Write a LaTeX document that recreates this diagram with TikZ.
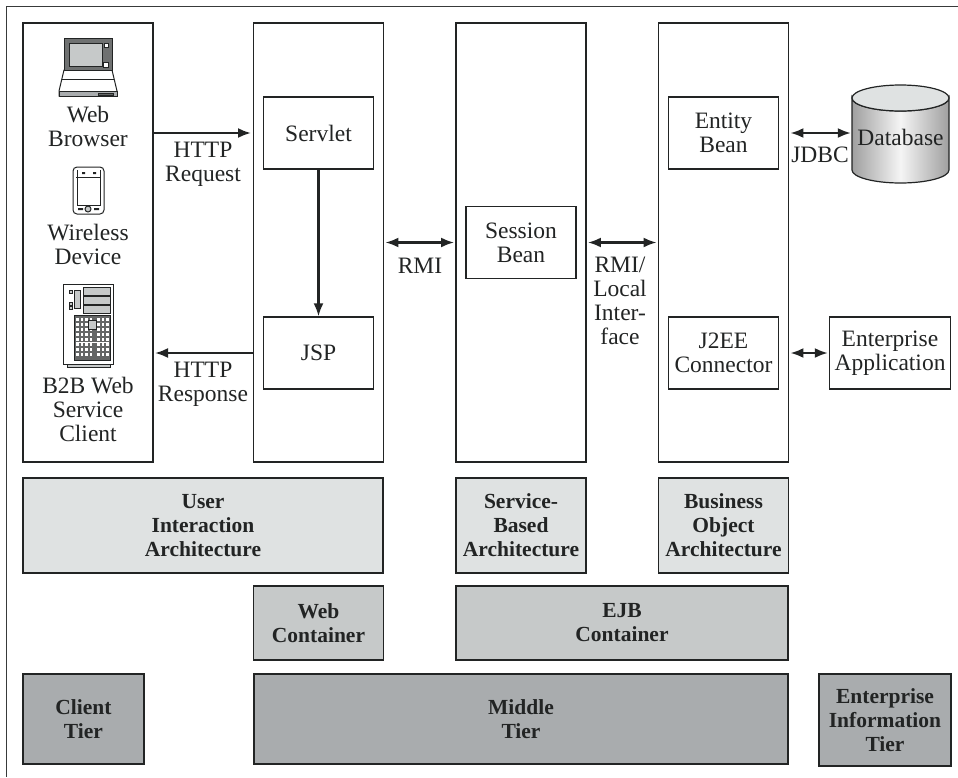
\documentclass[tikz,border=0pt]{standalone}
\usepackage{fontspec}
\setmainfont{Liberation Serif}
\usetikzlibrary{positioning, arrows.meta}

\definecolor{inkgray}{HTML}{222424}
\definecolor{lightbar}{HTML}{DFE2E2}
\definecolor{midbar}{HTML}{C6C9C9}
\definecolor{darkbar}{HTML}{A9ACAE}

\tikzstyle{block} = [rectangle, draw=inkgray, line width=1.9pt, fill=white, text=inkgray, align=center, inner sep=0pt, font=\fontsize{23.5}{24}\selectfont]
\tikzstyle{column} = [block, minimum width=130pt, minimum height=439pt]
\tikzstyle{comp} = [block, line width=1.4pt, minimum width=110pt, minimum height=72pt]
\tikzstyle{bar} = [block, font=\fontsize{21.5}{24}\selectfont\bfseries]
\tikzstyle{lbl} = [align=center, inner sep=0pt, text=inkgray, font=\fontsize{23.5}{24}\selectfont]
\tikzstyle{arrow} = [draw=inkgray, line width=2.2pt, -{Latex[length=13pt, width=10pt]}]
\tikzstyle{biarrow} = [draw=inkgray, line width=2.2pt, {Latex[length=13pt, width=10pt]}-{Latex[length=13pt, width=10pt]}, shorten <=1pt, shorten >=1pt]
\tikzstyle{icon} = [draw=inkgray, line width=1pt]

\begin{document}
\begin{tikzpicture}[x=1pt, y=-1pt, node distance=100pt, auto]
    \useasboundingbox (0,0) rectangle (958,777);
    \draw[draw=inkgray!90, line width=1.4pt] (958,6.5) -- (6.5,6.5) -- (6.5,777);

    % columns
    \node[column] (clientcol) at (88,242.5) {};
    \node[column] (webcol) at (318.5,242.5) {};
    \node[column, right of=webcol, node distance=202.5pt] (ejbcol) {};
    \node[column, right of=ejbcol, node distance=202.5pt] (entitycol) {};

    % components
    \node[comp, above of=webcol, node distance=109.5pt] (servlet) {Servlet};
    \node[comp, below of=webcol, node distance=110.5pt] (jsp) {JSP};
    \node[comp] (session) at (ejbcol) {Session\\Bean};
    \node[comp, above of=entitycol, node distance=109.5pt] (entity) {Entity\\Bean};
    \node[comp, below of=entitycol, node distance=110.5pt] (connector) {J2EE\\Connector};
    \node[comp, minimum width=121pt, right of=connector, node distance=166.5pt] (application) {Enterprise\\Application};

    % database
    \shade[left color=gray!75, right color=gray!75, middle color=white!92!gray, draw=inkgray, line width=1.2pt]
        (852,98) -- (852,170) arc[start angle=180, end angle=360, x radius=48.5pt, y radius=13pt]
        -- (949,98) arc[start angle=0, end angle=-180, x radius=48.5pt, y radius=13pt] -- cycle;
    \draw[fill=lightbar, draw=inkgray, line width=1.2pt] (900.5,98) ellipse[x radius=48.5pt, y radius=13pt];
    \node[lbl, minimum width=97pt, minimum height=96pt] (database) at (900.5,133) {\raisebox{-12pt}[0pt][0pt]{Database}};

    % client texts
    \node[lbl] (browser) at (88,126) {Web\\Browser};
    \node[lbl] (wireless) at (88,244) {Wireless\\Device};
    \node[lbl] (b2b) at (88,409) {B2B Web\\Service\\Client};

    % laptop
    \draw[icon, fill=white] (64,70) -- (59,91) -- (59,96) -- (117,96) -- (117,91) -- (112,70) -- cycle;
    \draw[icon, fill=darkbar] (59,91) rectangle (117,96);
    \draw[icon, fill=inkgray!70] (98,93) rectangle (113,95);
    \draw[icon] (62,79) -- (114,79);
    \draw[icon, fill=inkgray!65] (64,38) rectangle (112,70);
    \draw[icon, fill=midbar] (69,43) rectangle (102,66);
    \draw[icon, fill=white] (104,43) rectangle (108,47);
    \draw[icon, fill=white] (103,62) rectangle (108,67);

    % handheld
    \draw[icon, fill=white, rounded corners=4pt] (73,167) rectangle (104,214);
    \draw[icon] (76,177) -- (101,177);
    \draw[icon] (77,170) -- (77,205) -- (100,205) -- (100,170);
    \fill[inkgray] (82,172) rectangle (85,174) (93,172) rectangle (96,174);
    \draw[icon, fill=midbar] (88,209) circle (3pt);
    \fill[inkgray] (78,208) rectangle (83,210) (94,208) rectangle (99,210);

    % server
    \draw[icon, fill=midbar] (67,364) rectangle (110,367);
    \draw[icon, fill=white] (63,284) rectangle (113,364);
    \foreach \y in {287,296,305} {
        \draw[icon, fill=midbar] (83,\y) rectangle (110,\y+8.5);
    }
    \draw[icon, fill=midbar] (74,290) rectangle (80,308);
    \draw[icon, fill=midbar] (69,290) rectangle (72,293);
    \draw[icon, fill=midbar] (69,302) rectangle (72,305);
    \draw[icon, fill=midbar] (69,306) rectangle (72,309);
    \draw[icon, fill=inkgray!70] (74,315) rectangle (110,360);
    \foreach \x in {76,80.5,85,89.5,97,101.5,106} {
        \foreach \y in {318,323,328,333,338,343,348,353} {
            \fill[white] (\x,\y) rectangle ++(2.8,3);
        }
    }
    \fill[white] (75.5,341.5) rectangle (108.5,342.5);
    \draw[icon, fill=midbar] (88,320) rectangle (96,329);

    % lines
    \draw [arrow] (clientcol.east |- servlet) to (251,133);
    \draw [arrow] (servlet.south) to (jsp.north);
    \draw [arrow] (webcol.west |- jsp) to (155,353);
    \draw [biarrow] (webcol.east) to (ejbcol.west);
    \draw [biarrow] (ejbcol.east) to (entitycol.west);
    \draw [biarrow] (entitycol.east |- entity) to (database.west);
    \draw [biarrow] (entitycol.east |- connector) to (application.west);

    % line labels
    \node[lbl] (request) at (203,164) {HTTP\\Request};
    \node[lbl] (response) at (203,384) {HTTP\\Response};
    \node[lbl] (rmi) at (420,266) {RMI};
    \node[lbl] (local) at (620,301) {RMI/\\Local\\Inter-\\face};
    \node[lbl] (jdbc) at (820,155) {JDBC};

    % architecture bars
    \node[bar, fill=lightbar, minimum width=360pt, minimum height=95pt] (userarch) at (203,525.5) {User\\Interaction\\Architecture};
    \node[bar, fill=lightbar, minimum width=130pt, minimum height=95pt] (servicearch) at (521,525.5) {Service-\\Based\\Architecture};
    \node[bar, fill=lightbar, minimum width=130pt, minimum height=95pt] (businessarch) at (723.5,525.5) {Business\\Object\\Architecture};

    % containers
    \node[bar, fill=midbar, minimum width=130pt, minimum height=74pt] (webcont) at (318.5,623) {Web\\Container};
    \node[bar, fill=midbar, minimum width=332pt, minimum height=74pt] (ejbcont) at (622,623) {EJB\\Container};

    % tiers
    \node[bar, fill=darkbar, minimum width=121pt, minimum height=90pt] (clienttier) at (83.5,719) {Client\\Tier};
    \node[bar, fill=darkbar, minimum width=534pt, minimum height=90pt] (middletier) at (521,719) {Middle\\Tier};
    \node[bar, fill=darkbar, minimum width=132pt, minimum height=92pt] (eistier) at (885,720) {Enterprise\\Information\\Tier};
\end{tikzpicture}
\end{document}
